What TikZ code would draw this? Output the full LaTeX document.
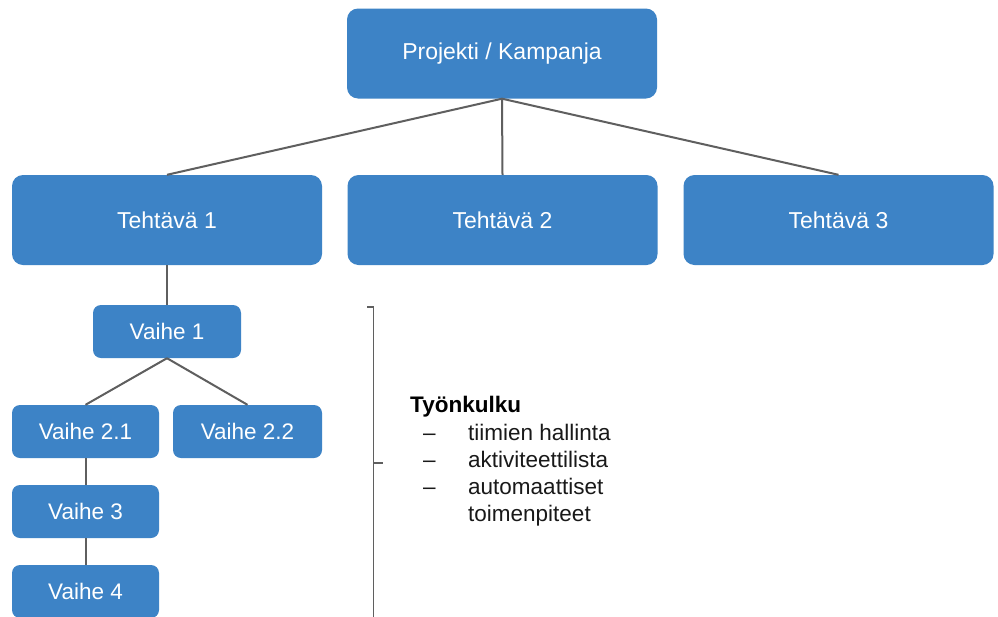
\documentclass[tikz,border=0pt]{standalone}
\usepackage{fontspec}
\setmainfont{Liberation Sans}
\definecolor{boxblue}{RGB}{61,131,198}
\definecolor{linegray}{RGB}{95,95,95}
\definecolor{txtdark}{RGB}{25,25,25}
\begin{document}
\begin{tikzpicture}[x=1pt,y=-1pt,
  bigbox/.style={fill=boxblue, draw=none, rounded corners=11pt, text=white,
    minimum width=310pt, minimum height=90pt, inner sep=0pt,
    font=\fontsize{23}{27}\selectfont},
  smallbox/.style={fill=boxblue, draw=none, rounded corners=8pt, text=white,
    minimum width=147pt, minimum height=53pt, inner sep=0pt,
    font=\fontsize{22.5}{27}\selectfont},
  conn/.style={draw=linegray, line width=2pt},
  listtxt/.style={anchor=base west, inner sep=0pt, text=txtdark,
    font=\fontsize{22.5}{27}\selectfont}]
\fill[white] (0,0) rectangle (998,616);
\useasboundingbox (0,0) rectangle (998,616);

\node[bigbox] (top) at (502,53.5) {Projekti / Kampanja};
\node[bigbox] (t1) at (167,220) {Tehtävä 1};
\node[bigbox] (t2) at (502.5,220) {Tehtävä 2};
\node[bigbox] (t3) at (838.5,220) {Tehtävä 3};

\node[smallbox, minimum width=148pt] (v1) at (167,331.5) {Vaihe 1};
\node[smallbox] (v21) at (85.5,431.5) {Vaihe 2.1};
\node[smallbox, minimum width=149pt] (v22) at (247.5,431.5) {Vaihe 2.2};
\node[smallbox] (v3) at (85.5,511.5) {Vaihe 3};
\node[smallbox] (v4) at (85.5,591.5) {Vaihe 4};

\draw[conn] (top.south) -- (t1.north);
\draw[conn] (top.south) -- (t2.north);
\draw[conn] (top.south) -- (t3.north);
\draw[conn] (t1.south) -- (v1.north);
\draw[conn] (v1.south) -- (v21.north);
\draw[conn] (v1.south) -- (v22.north);
\draw[conn] (v21.south) -- (v3.north);
\draw[conn] (v3.south) -- (v4.north);

% bracket
\coordinate (bTL) at (367,307);
\coordinate (bT) at (373.5,307);
\coordinate (bB) at (373.5,618);
\coordinate (bM) at (373.5,463);
\coordinate (bMR) at (383,463);
\draw[conn, line width=1.8pt] (bTL) -- (bT) -- (bB);
\draw[conn, line width=1.8pt] (bM) -- (bMR);

% text
\node[listtxt, font=\fontsize{22.5}{27}\selectfont\bfseries, text=black] (head) at (410,412) {Työnkulku};
\node[listtxt] (d1) at (423,440) {–};
\node[listtxt] (i1) at (468,440) {tiimien hallinta};
\node[listtxt] (d2) at (423,467) {–};
\node[listtxt] (i2) at (468,467) {aktiviteettilista};
\node[listtxt] (d3) at (423,494.5) {–};
\node[listtxt] (i3) at (468,494.5) {automaattiset};
\node[listtxt] (i4) at (468,521.5) {toimenpiteet};
\end{tikzpicture}
\end{document}
